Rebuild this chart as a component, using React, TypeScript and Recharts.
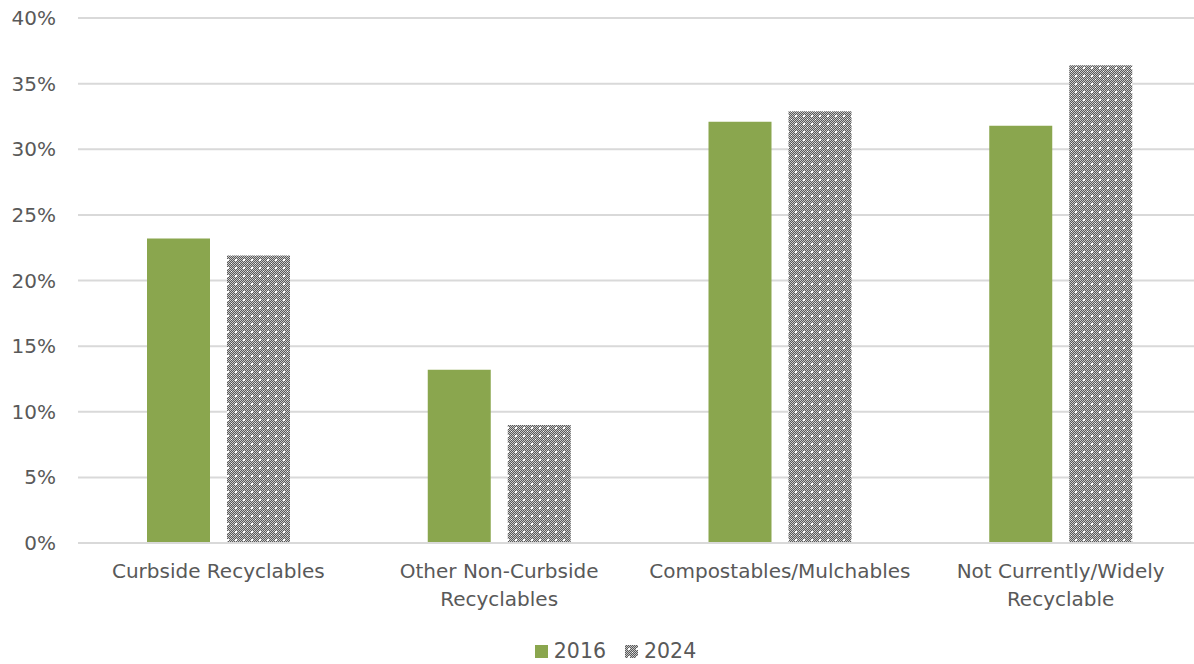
import React from "react";
import { BarChart, Bar, XAxis, YAxis, CartesianGrid, Legend } from "recharts";

const categories = [
  "Curbside Recyclables",
  "Other Non-Curbside\nRecyclables",
  "Compostables/Mulchables",
  "Not Currently/Widely\nRecyclable",
];
const series2016 = [23.2, 13.2, 32.1, 31.8];
const series2024 = [21.9, 9.0, 32.9, 36.4];
const yTicks = [0, 5, 10, 15, 20, 25, 30, 35, 40];

const data = categories.map((c, i) => ({ name: c, y2016: series2016[i], y2024: series2024[i] }));

const FONT = "'DejaVu Sans', Verdana, sans-serif";
const TEXT = "#595959";

const XTick = (props: any) => {
  const { x, y, payload } = props;
  const lines = String(payload.value).split("\n");
  return (
    <g transform={`translate(${x},${y})`}>
      {lines.map((l, i) => (
        <text key={i} x={0} y={0} dy={27 + i * 28} textAnchor="middle" fill={TEXT} fontSize={20} fontFamily={FONT}>
          {l}
        </text>
      ))}
    </g>
  );
};

const LegendContent = () => (
  <div style={{ display: "flex", justifyContent: "center", alignItems: "center", fontFamily: FONT, fontSize: 20.5, color: TEXT, paddingLeft: 30, paddingTop: 8 }}>
    <svg width={13} height={13} style={{ marginRight: 6 }}>
      <rect width={13} height={13} fill="#8aa64e" />
    </svg>
    <span style={{ marginRight: 19 }}>2016</span>
    <svg width={13} height={13} style={{ marginRight: 6 }}>
      <rect width={13} height={13} fill="url(#checkPat)" />
    </svg>
    <span>2024</span>
  </div>
);

export default function App() {
  return (
    <div style={{ position: "absolute", left: 0, top: 0, width: 1194, height: 664, background: "#fff", overflow: "hidden" }}>
      <svg width={0} height={0} style={{ position: "absolute" }}>
        <defs>
          <pattern id="checkPat" x={0} y={0} width={8} height={8} patternUnits="userSpaceOnUse">
            <rect width={8} height={8} fill="#5a5a5a" />
            {Array.from({ length: 32 }).map((_, k) => {
              const cx = k % 8;
              const cy = Math.floor(k / 8) * 2 + (cx % 2);
              return <rect key={k} x={cx} y={cy} width={1} height={1} fill="#c8c8c8" />;
            })}
            <rect x={3} y={3} width={2} height={2} fill="#ffffff" />
            <rect x={7} y={7} width={1} height={1} fill="#ffffff" />
          </pattern>
        </defs>
      </svg>
      <BarChart
        width={1201}
        height={664}
        data={data}
        margin={{ top: 18, right: 0, bottom: 0, left: 0 }}
        barCategoryGap="24.5%"
        barGap={17}
      >
        <CartesianGrid vertical={false} stroke="#d9d9d9" strokeWidth={2} />
        <XAxis
          dataKey="name"
          tick={<XTick />}
          tickLine={false}
          axisLine={{ stroke: "#d9d9d9", strokeWidth: 2 }}
          interval={0}
          height={88}
        />
        <YAxis
          domain={[0, 40]}
          ticks={yTicks}
          tickFormatter={(v: number) => `${v}%`}
          tickLine={false}
          axisLine={false}
          tickSize={0}
          tickMargin={22}
          width={78}
          tick={{ fill: TEXT, fontSize: 20, fontFamily: FONT }}
        />
        <Legend verticalAlign="bottom" height={33} content={<LegendContent />} />
        <Bar dataKey="y2016" name="2016" fill="#8aa64e" barSize={63} isAnimationActive={false} />
        <Bar dataKey="y2024" name="2024" fill="url(#checkPat)" barSize={63} isAnimationActive={false} />
      </BarChart>
    </div>
  );
}
